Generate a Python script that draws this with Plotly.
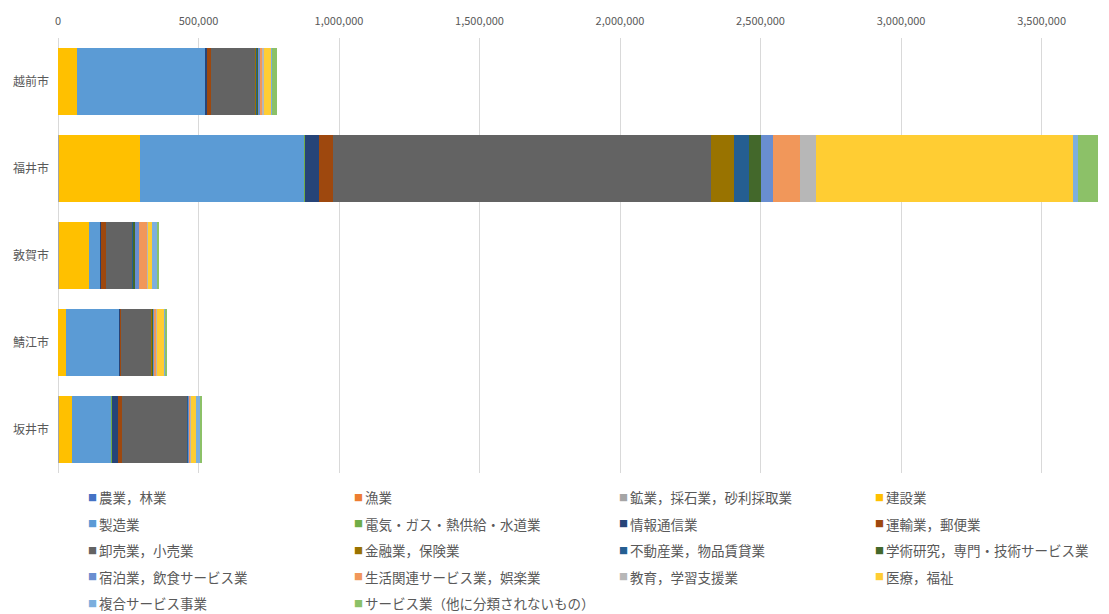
import plotly.graph_objects as go

# Cities (top to bottom)
cities = ["越前市", "福井市", "敦賀市", "鯖江市", "坂井市"]

# Industry categories in stacking / legend order
industries = [
    "農業，林業", "漁業", "鉱業，採石業，砂利採取業", "建設業",
    "製造業", "電気・ガス・熱供給・水道業", "情報通信業", "運輸業，郵便業",
    "卸売業，小売業", "金融業，保険業", "不動産業，物品賃貸業", "学術研究，専門・技術サービス業",
    "宿泊業，飲食サービス業", "生活関連サービス業，娯楽業", "教育，学習支援業", "医療，福祉",
    "複合サービス事業", "サービス業（他に分類されないもの）",
]

colors = [
    "#4472C4", "#ED7D31", "#A5A5A5", "#FFC000",
    "#5B9BD5", "#70AD47", "#264478", "#9E480E",
    "#636363", "#997300", "#255E91", "#43682B",
    "#698ED0", "#F1975A", "#B7B7B7", "#FFCD33",
    "#7CAFDD", "#8CC168",
]

# Values per city, one list per industry (order follows `cities`)
agri      = [1000, 2000, 1000, 500, 3000]
fishery   = [0, 500, 1000, 200, 500]
mining    = [500, 500, 500, 300, 500]
construct = [65000, 289000, 107000, 28000, 46500]
manufact  = [459000, 585000, 40500, 190000, 139500]
utility   = [1000, 3000, 1000, 1000, 1000]
infocom   = [2000, 48000, 2000, 2000, 21500]
transport = [15000, 52000, 18000, 3000, 16000]
trade     = [160000, 1345000, 92500, 109000, 231000]
finance   = [2000, 82000, 3000, 2000, 2000]
realest   = [1000, 51000, 3000, 1000, 2000]
research  = [8000, 42000, 6000, 2000, 2000]
lodging   = [6000, 45000, 12000, 2000, 3000]
living    = [8000, 95000, 30000, 8000, 2000]
education = [3000, 57000, 3000, 3000, 1000]
medical   = [29000, 915000, 15000, 28000, 20000]
compound  = [2000, 17000, 15000, 2000, 14500]
services  = [18000, 72000, 9000, 5000, 7000]

series = [
    agri, fishery, mining, construct,
    manufact, utility, infocom, transport,
    trade, finance, realest, research,
    lodging, living, education, medical,
    compound, services,
]

tick_vals = [0, 500000, 1000000, 1500000, 2000000, 2500000, 3000000, 3500000]

FONT = "Noto Sans CJK JP, Noto Sans, sans-serif"
GRAY = "#595959"

W, H = 1109, 614
M_L, M_R, M_T, M_B = 58, 0, 38, 141
PLOT_W = W - M_L - M_R
PLOT_H = H - M_T - M_B

fig = go.Figure()
for name, vals, col in zip(industries, series, colors):
    fig.add_trace(go.Bar(
        y=cities, x=vals, name=name, orientation="h",
        marker=dict(color=col, line=dict(width=0)),
        showlegend=False,
        hovertemplate="%{y}<br>" + name + ": %{x:,}<extra></extra>",
    ))

# Four-column legend below the plot: small colour square followed by the label
LEG_COL_X = [87, 353, 618, 874]      # pixel x of each column's square
LEG_ROW_Y0, LEG_ROW_DY = 497, 26.5   # pixel y of first row centre, row pitch
annotations = []
for i, (name, col) in enumerate(zip(industries, colors)):
    r, c = divmod(i, 4)
    px = LEG_COL_X[c]
    py = LEG_ROW_Y0 + r * LEG_ROW_DY
    yp = (H - M_B - py) / PLOT_H
    annotations.append(dict(
        x=(px - M_L - 1) / PLOT_W, y=yp, xref="paper", yref="paper",
        xanchor="left", yanchor="middle", showarrow=False,
        text="■", font=dict(family=FONT, size=9, color=col),
    ))
    annotations.append(dict(
        x=(px + 10 - M_L) / PLOT_W, y=yp, xref="paper", yref="paper",
        xanchor="left", yanchor="middle", showarrow=False,
        text=name, font=dict(family=FONT, size=13.5, color=GRAY),
    ))

fig.update_layout(
    width=W, height=H,
    barmode="stack", bargap=0.22,
    paper_bgcolor="white", plot_bgcolor="white",
    margin=dict(l=M_L, r=M_R, t=M_T, b=M_B),
    font=dict(family=FONT, color=GRAY, size=12),
    showlegend=False,
    xaxis=dict(
        side="top", range=[0, 3740000],
        tickvals=tick_vals, tickformat=",",
        showgrid=True, gridcolor="#D9D9D9", gridwidth=1,
        zeroline=True, zerolinecolor="#D9D9D9", zerolinewidth=1,
        showline=False, ticks="", ticklabelstandoff=10,
        tickfont=dict(size=11, color=GRAY),
    ),
    yaxis=dict(
        autorange="reversed", showgrid=False, zeroline=False,
        showline=False, ticks="", ticklabelstandoff=8,
        tickfont=dict(size=12, color=GRAY),
    ),
    annotations=annotations,
)

fig.write_html("out.html")
